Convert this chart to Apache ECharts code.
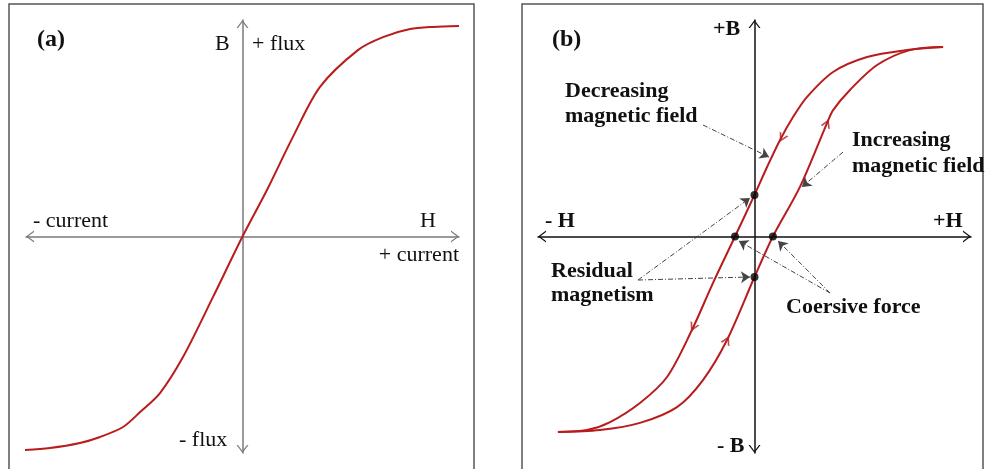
<!DOCTYPE html>
<html>
<head>
<meta charset="utf-8">
<title>B-H curve and hysteresis loop</title>
<script src="https://cdn.jsdelivr.net/npm/echarts@6/dist/echarts.min.js"></script>
<style>
    html, body {
        margin: 0;
        padding: 0;
        background: #fff;
    }
    #chart {
        width: 985px;
        height: 469px;
    }
</style>
</head>
<body>
<div id="chart"></div>
<script>
// (a) magnetisation curve, H vs B (normalised)
const curveA = [
    [-1.005, -0.986], [-0.889, -0.977], [-0.751, -0.954], [-0.658, -0.926],
    [-0.552, -0.880], [-0.473, -0.811], [-0.381, -0.723], [-0.275, -0.557],
    [-0.136, -0.279], [0, 0], [0.113, 0.215],
    [0.233, 0.460], [0.358, 0.691], [0.533, 0.861], [0.649, 0.921],
    [0.774, 0.958], [0.880, 0.968], [1.0, 0.972]
];

// (b) hysteresis loop, two branches
const decreasingBranch = [
    [0.871, 0.875], [0.704, 0.861], [0.520, 0.829], [0.363, 0.760],
    [0.242, 0.644], [0.178, 0.552], [0.118, 0.446], [0.058, 0.321],
    [0, 0.192], [-0.090, 0], [-0.192, -0.215], [-0.289, -0.432],
    [-0.404, -0.649], [-0.529, -0.769], [-0.667, -0.857], [-0.774, -0.894],
    [-0.908, -0.903]
];
const increasingBranch = [
    [-0.908, -0.903], [-0.714, -0.894], [-0.529, -0.861], [-0.358, -0.788],
    [-0.238, -0.663], [-0.127, -0.478], [0, -0.187], [0.085, 0],
    [0.210, 0.229], [0.335, 0.524], [0.363, 0.584], [0.441, 0.677],
    [0.566, 0.792], [0.718, 0.861], [0.871, 0.875]
];

// direction markers sitting on each branch
const decreasingArrows = [[0.127, 0.455], [-0.284, -0.420]];
const increasingArrows = [[0.335, 0.524], [-0.127, -0.478]];

// residual magnetism (B axis crossings) and coercive force (H axis crossings)
const residualPoints = [[0, 0.192], [0, -0.187]];
const coercivePoints = [[-0.090, 0], [0.085, 0]];

// annotation leader lines: [from, to]
const leaderLines = [
    [[-0.238, 0.515], [0.067, 0.367]],
    [[0.409, 0.390], [0.219, 0.229]],
    [[-0.538, -0.201], [-0.021, 0.178]],
    [[-0.538, -0.201], [-0.021, -0.187]],
    [[0.349, -0.261], [-0.072, -0.021]],
    [[0.349, -0.261], [0.109, -0.021]]
];

const RED = '#b81c1c';
const chevron = 'path://M0,8 L6,0 L12,8 L10.5,8 L6,2 L1.5,8 Z';
const curveChevron = 'path://M0,9 L5,0 L10,9 L8.1,9 L5,3.4 L1.9,9 Z';

// direction of the curve near a point (same px/unit on both axes)
const tangentAngle = (branch, p) => {
    let best = 0, bd = Infinity;
    branch.forEach((q, i) => {
        const d = (q[0] - p[0]) ** 2 + (q[1] - p[1]) ** 2;
        if (d < bd) { bd = d; best = i; }
    });
    const a = branch[Math.max(best - 1, 0)];
    const b = branch[Math.min(best + 1, branch.length - 1)];
    return Math.atan2(b[1] - a[1], b[0] - a[0]) * 180 / Math.PI;
};

const arrowData = (branch, pts) => pts.map(p => ({
    value: p,
    symbolRotate: tangentAngle(branch, p) - 90
}));

const makeAxis = (gridIndex, color) => ({
    gridIndex,
    type: 'value',
    min: -1,
    max: 1,
    axisLine: {
        onZero: true,
        lineStyle: { color, width: 1.5 },
        symbol: [chevron, chevron],
        symbolSize: [12, 8],
        symbolOffset: [4, -4]
    },
    axisTick: { show: false },
    axisLabel: { show: false },
    splitLine: { show: false }
});

const serif = '"Liberation Serif", "DejaVu Serif", serif';
const txt = (x, y, text, opts = {}) => ({
    type: 'text',
    x,
    y,
    style: {
        text,
        font: (opts.bold ? 'bold ' : '') + (opts.size || 22) + 'px ' + serif,
        fill: '#111',
        align: opts.align || 'left',
        verticalAlign: 'middle',
        textAlign: opts.align || 'left',
        textVerticalAlign: 'middle'
    }
});

const curveLine = (axisIndex, data) => ({
    type: 'line',
    xAxisIndex: axisIndex,
    yAxisIndex: axisIndex,
    data,
    smooth: 0.3,
    showSymbol: false,
    clip: false,
    lineStyle: { color: RED, width: 2 }
});

const chart = echarts.init(document.getElementById('chart'));

const option = {
    animation: false,
    backgroundColor: '#fff',
    grid: [
        { left: 26, top: 20, width: 433, height: 433 },
        { left: 538, top: 20, width: 433, height: 433 }
    ],
    xAxis: [makeAxis(0, '#7a7a7a'), makeAxis(1, '#111')],
    yAxis: [makeAxis(0, '#7a7a7a'), makeAxis(1, '#111')],
    graphic: [
        { type: 'rect', shape: { x: 9, y: 4, width: 465, height: 480 }, style: { fill: 'none', stroke: '#555', lineWidth: 1.5 } },
        { type: 'rect', shape: { x: 522, y: 4, width: 461, height: 480 }, style: { fill: 'none', stroke: '#555', lineWidth: 1.5 } },
        // panel (a)
        txt(37, 40, '(a)', { bold: true, size: 24 }),
        txt(215, 44, 'B'),
        txt(252, 44, '+ flux'),
        txt(33, 221, '- current'),
        txt(420, 221, 'H'),
        txt(459, 255, '+ current', { align: 'right' }),
        txt(179, 440, '- flux'),
        // panel (b)
        txt(552, 40, '(b)', { bold: true, size: 24 }),
        txt(713, 29, '+B', { bold: true }),
        txt(717, 446, '- B', { bold: true }),
        txt(545, 221, '- H', { bold: true }),
        txt(933, 221, '+H', { bold: true }),
        txt(565, 91, 'Decreasing', { bold: true }),
        txt(565, 116, 'magnetic field', { bold: true }),
        txt(852, 140, 'Increasing', { bold: true }),
        txt(852, 166, 'magnetic field', { bold: true }),
        txt(551, 271, 'Residual', { bold: true }),
        txt(551, 295, 'magnetism', { bold: true }),
        txt(786, 307, 'Coersive force', { bold: true })
    ],
    series: [
        curveLine(0, curveA),
        curveLine(1, decreasingBranch),
        curveLine(1, increasingBranch),
        {
            type: 'scatter',
            xAxisIndex: 1,
            yAxisIndex: 1,
            data: arrowData(decreasingBranch, decreasingArrows)
                .concat(arrowData(increasingBranch, increasingArrows)),
            symbol: curveChevron,
            symbolSize: [10, 9],
            itemStyle: { color: RED },
            silent: true
        },
        {
            type: 'scatter',
            xAxisIndex: 1,
            yAxisIndex: 1,
            data: residualPoints.concat(coercivePoints),
            symbolSize: 8,
            itemStyle: { color: '#000' },
            z: 5,
            markLine: {
                silent: true,
                symbol: ['none', 'arrow'],
                symbolSize: 9,
                label: { show: false },
                lineStyle: { color: '#444', width: 1, type: [5, 2, 1, 2] },
                emphasis: { disabled: true },
                data: leaderLines.map(([a, b]) => [{ coord: a }, { coord: b }])
            }
        }
    ]
};

chart.setOption(option);

window.addEventListener('resize', () => chart.resize());
</script>
</body>
</html>
